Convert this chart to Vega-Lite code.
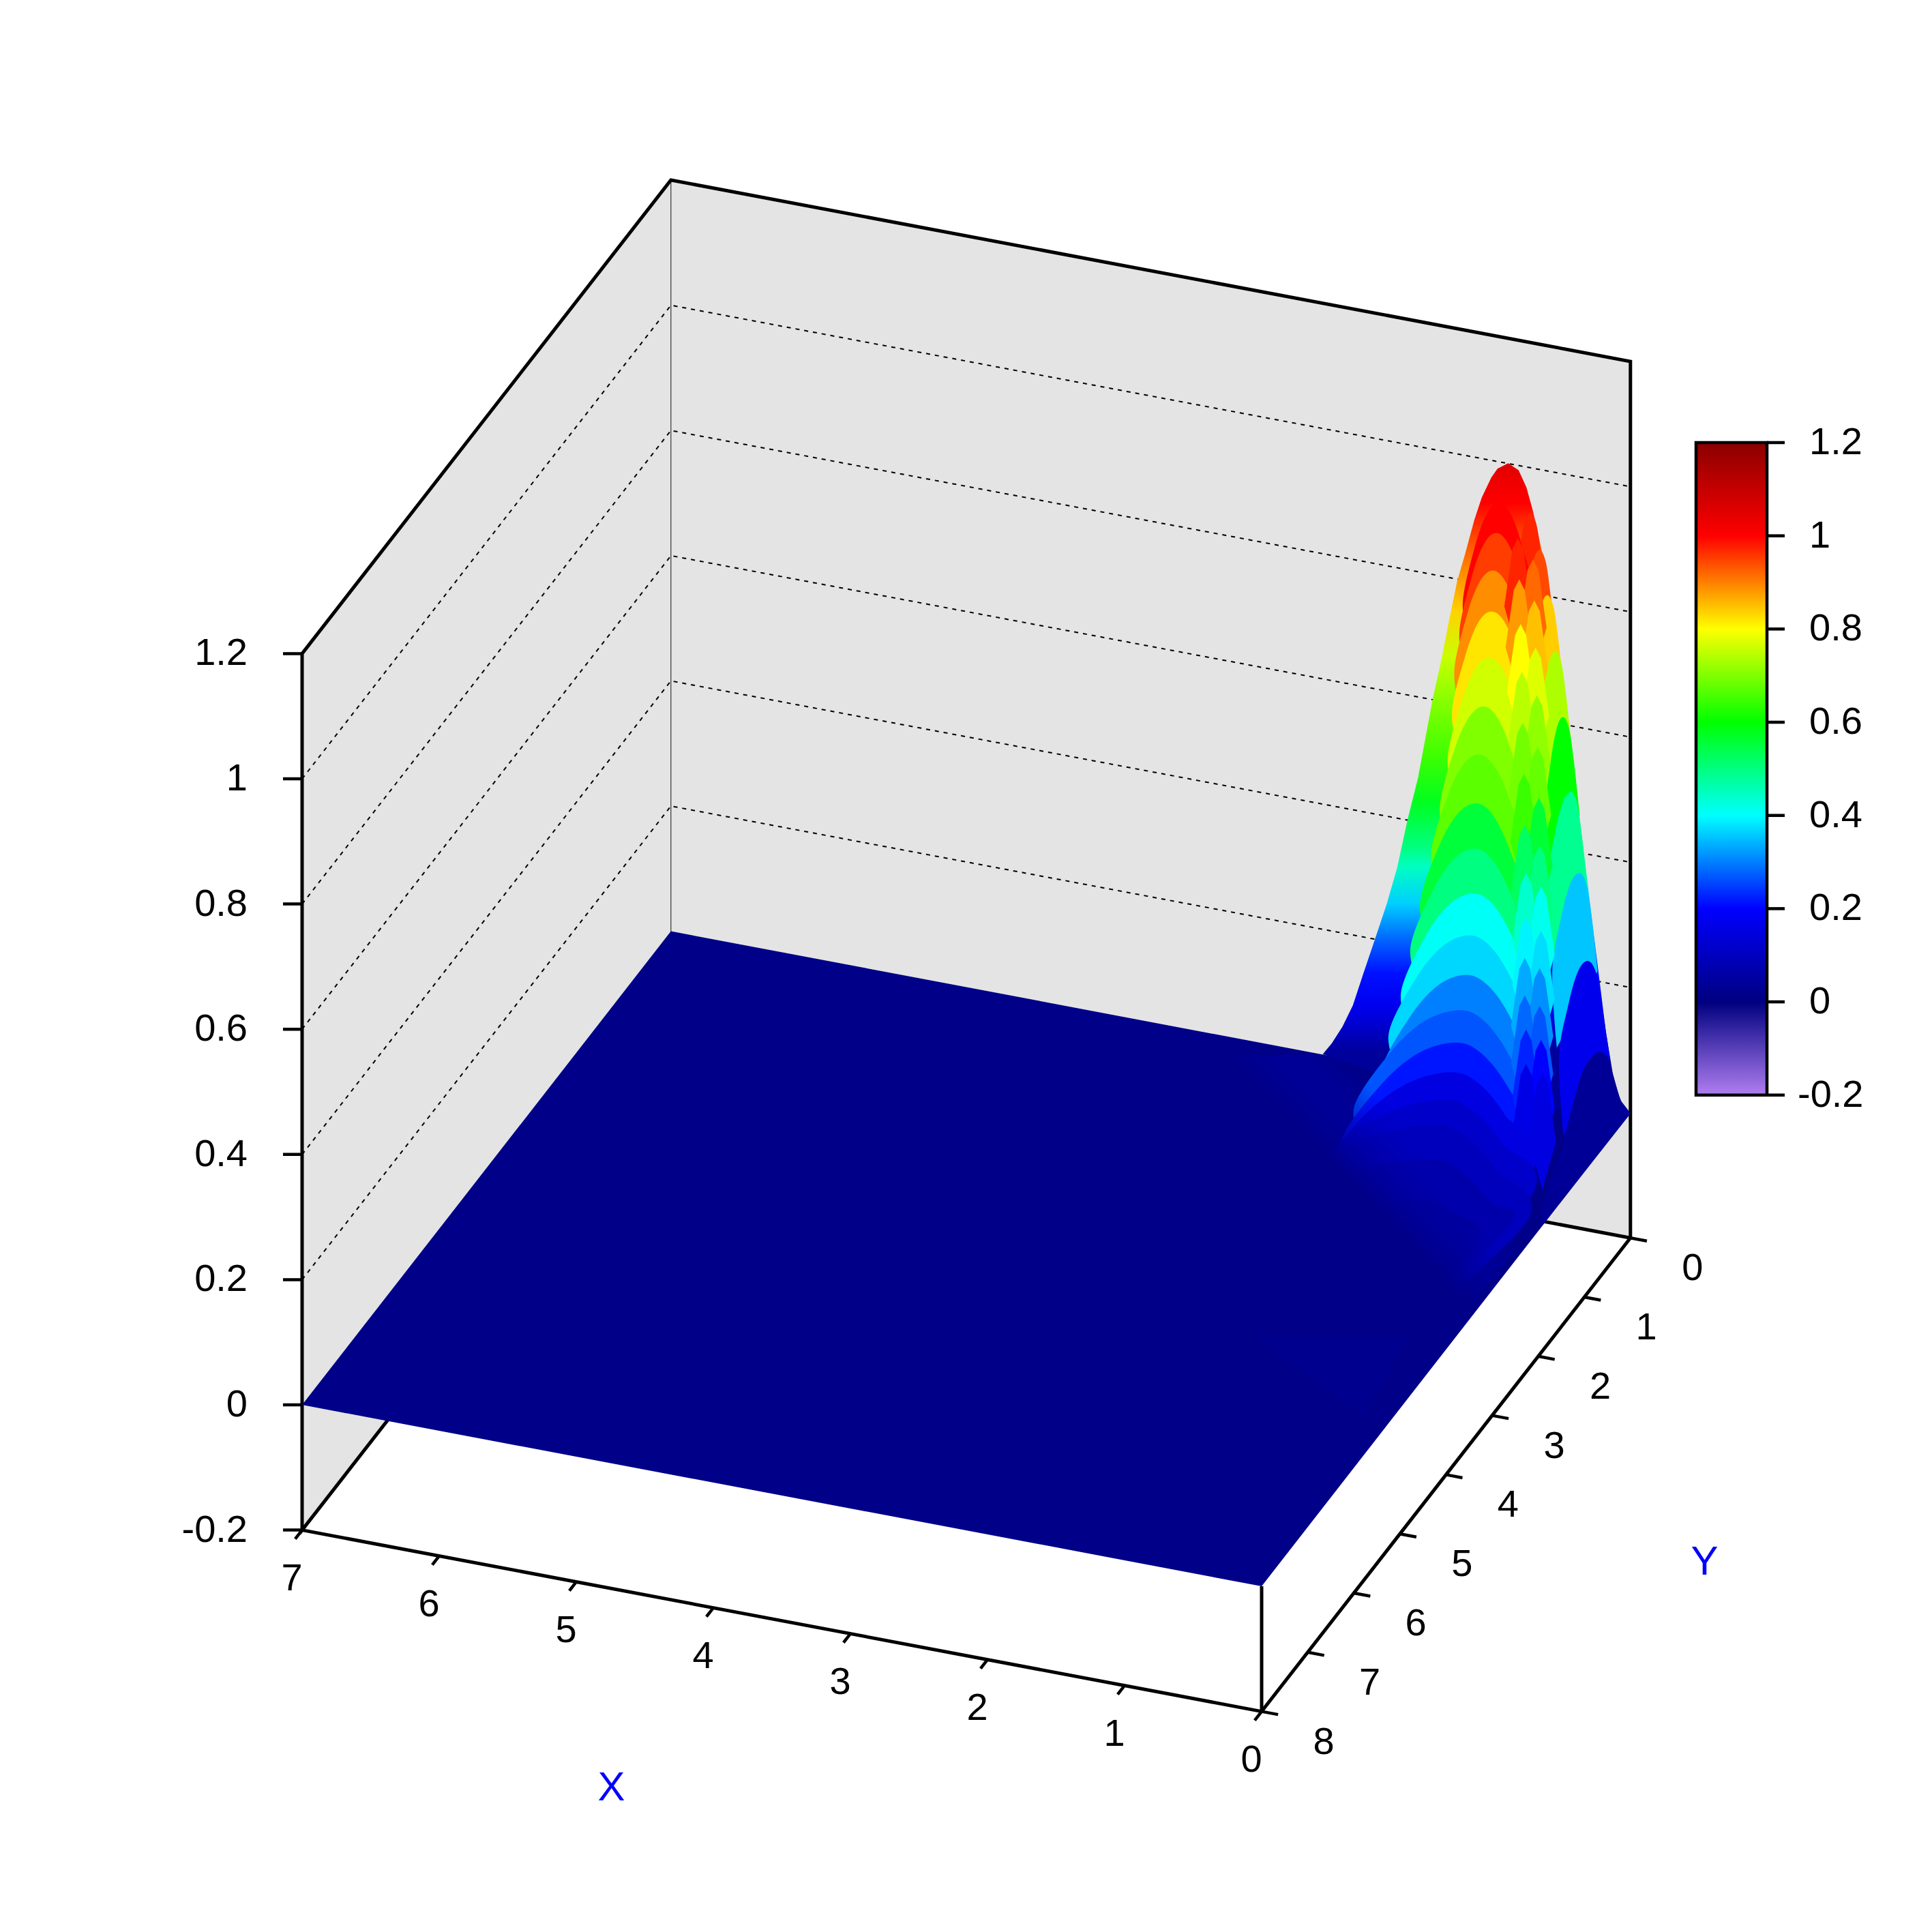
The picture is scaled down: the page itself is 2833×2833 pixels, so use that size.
{"$schema":"https://vega.github.io/schema/vega-lite/v6.json","width":2833,"height":2833,"padding":0,"autosize":{"type":"none"},"background":"white","config":{"view":{"stroke":null}},
"datasets":{"pts":[
{"part":"wall","poly":"left","i":0,"X":7,"Y":8,"Z":-0.2},{"part":"wall","poly":"left","i":1,"X":7,"Y":8,"Z":1.2},{"part":"wall","poly":"left","i":2,"X":7,"Y":0,"Z":1.2},{"part":"wall","poly":"left","i":3,"X":7,"Y":0,"Z":-0.2},
{"part":"wall","poly":"back","i":0,"X":7,"Y":0,"Z":-0.2},{"part":"wall","poly":"back","i":1,"X":7,"Y":0,"Z":1.2},{"part":"wall","poly":"back","i":2,"X":0,"Y":0,"Z":1.2},{"part":"wall","poly":"back","i":3,"X":0,"Y":0,"Z":-0.2},
{"part":"grid","poly":"g2","i":0,"X":7,"Y":8,"Z":0.2},{"part":"grid","poly":"g2","i":1,"X":7,"Y":0,"Z":0.2},{"part":"grid","poly":"g2","i":2,"X":0,"Y":0,"Z":0.2},
{"part":"grid","poly":"g4","i":0,"X":7,"Y":8,"Z":0.4},{"part":"grid","poly":"g4","i":1,"X":7,"Y":0,"Z":0.4},{"part":"grid","poly":"g4","i":2,"X":0,"Y":0,"Z":0.4},
{"part":"grid","poly":"g6","i":0,"X":7,"Y":8,"Z":0.6},{"part":"grid","poly":"g6","i":1,"X":7,"Y":0,"Z":0.6},{"part":"grid","poly":"g6","i":2,"X":0,"Y":0,"Z":0.6},
{"part":"grid","poly":"g8","i":0,"X":7,"Y":8,"Z":0.8},{"part":"grid","poly":"g8","i":1,"X":7,"Y":0,"Z":0.8},{"part":"grid","poly":"g8","i":2,"X":0,"Y":0,"Z":0.8},
{"part":"grid","poly":"g10","i":0,"X":7,"Y":8,"Z":1},{"part":"grid","poly":"g10","i":1,"X":7,"Y":0,"Z":1},{"part":"grid","poly":"g10","i":2,"X":0,"Y":0,"Z":1},
{"part":"thin","poly":"v","i":0,"X":7,"Y":0,"Z":-0.2},{"part":"thin","poly":"v","i":1,"X":7,"Y":0,"Z":1.2},
{"part":"edge","poly":"box","i":0,"X":7,"Y":8,"Z":-0.2},{"part":"edge","poly":"box","i":1,"X":0,"Y":8,"Z":-0.2},{"part":"edge","poly":"box","i":2,"X":0,"Y":0,"Z":-0.2},{"part":"edge","poly":"box","i":3,"X":0,"Y":0,"Z":1.2},{"part":"edge","poly":"box","i":4,"X":7,"Y":0,"Z":1.2},{"part":"edge","poly":"box","i":5,"X":7,"Y":8,"Z":1.2},{"part":"edge","poly":"box","i":6,"X":7,"Y":8,"Z":-0.2},{"part":"edge","poly":"box","i":7,"X":7,"Y":0,"Z":-0.2},{"part":"edge","poly":"box","i":8,"X":0,"Y":0,"Z":-0.2},
{"part":"edge","poly":"front","i":0,"X":0,"Y":8,"Z":-0.2},{"part":"edge","poly":"front","i":1,"X":0,"Y":8,"Z":0},
{"part":"tick","poly":"x0","i":0,"X":0,"Y":8,"Z":-0.2},{"part":"tick","poly":"x0","i":1,"X":0,"Y":8.15,"Z":-0.2},
{"part":"tick","poly":"x1","i":0,"X":1,"Y":8,"Z":-0.2},{"part":"tick","poly":"x1","i":1,"X":1,"Y":8.15,"Z":-0.2},
{"part":"tick","poly":"x2","i":0,"X":2,"Y":8,"Z":-0.2},{"part":"tick","poly":"x2","i":1,"X":2,"Y":8.15,"Z":-0.2},
{"part":"tick","poly":"x3","i":0,"X":3,"Y":8,"Z":-0.2},{"part":"tick","poly":"x3","i":1,"X":3,"Y":8.15,"Z":-0.2},
{"part":"tick","poly":"x4","i":0,"X":4,"Y":8,"Z":-0.2},{"part":"tick","poly":"x4","i":1,"X":4,"Y":8.15,"Z":-0.2},
{"part":"tick","poly":"x5","i":0,"X":5,"Y":8,"Z":-0.2},{"part":"tick","poly":"x5","i":1,"X":5,"Y":8.15,"Z":-0.2},
{"part":"tick","poly":"x6","i":0,"X":6,"Y":8,"Z":-0.2},{"part":"tick","poly":"x6","i":1,"X":6,"Y":8.15,"Z":-0.2},
{"part":"tick","poly":"x7","i":0,"X":7,"Y":8,"Z":-0.2},{"part":"tick","poly":"x7","i":1,"X":7,"Y":8.15,"Z":-0.2},
{"part":"tick","poly":"y0","i":0,"X":0,"Y":0,"Z":-0.2},{"part":"tick","poly":"y0","i":1,"X":-0.12,"Y":0,"Z":-0.2},
{"part":"tick","poly":"y1","i":0,"X":0,"Y":1,"Z":-0.2},{"part":"tick","poly":"y1","i":1,"X":-0.12,"Y":1,"Z":-0.2},
{"part":"tick","poly":"y2","i":0,"X":0,"Y":2,"Z":-0.2},{"part":"tick","poly":"y2","i":1,"X":-0.12,"Y":2,"Z":-0.2},
{"part":"tick","poly":"y3","i":0,"X":0,"Y":3,"Z":-0.2},{"part":"tick","poly":"y3","i":1,"X":-0.12,"Y":3,"Z":-0.2},
{"part":"tick","poly":"y4","i":0,"X":0,"Y":4,"Z":-0.2},{"part":"tick","poly":"y4","i":1,"X":-0.12,"Y":4,"Z":-0.2},
{"part":"tick","poly":"y5","i":0,"X":0,"Y":5,"Z":-0.2},{"part":"tick","poly":"y5","i":1,"X":-0.12,"Y":5,"Z":-0.2},
{"part":"tick","poly":"y6","i":0,"X":0,"Y":6,"Z":-0.2},{"part":"tick","poly":"y6","i":1,"X":-0.12,"Y":6,"Z":-0.2},
{"part":"tick","poly":"y7","i":0,"X":0,"Y":7,"Z":-0.2},{"part":"tick","poly":"y7","i":1,"X":-0.12,"Y":7,"Z":-0.2},
{"part":"tick","poly":"y8","i":0,"X":0,"Y":8,"Z":-0.2},{"part":"tick","poly":"y8","i":1,"X":-0.12,"Y":8,"Z":-0.2},
{"part":"tick","poly":"z0","i":0,"X":7,"Y":8,"Z":-0.2},{"part":"tick","poly":"z0","i":1,"X":7.1214,"Y":8.0534,"Z":-0.2},
{"part":"tick","poly":"z1","i":0,"X":7,"Y":8,"Z":0},{"part":"tick","poly":"z1","i":1,"X":7.1214,"Y":8.0534,"Z":0},
{"part":"tick","poly":"z2","i":0,"X":7,"Y":8,"Z":0.2},{"part":"tick","poly":"z2","i":1,"X":7.1214,"Y":8.0534,"Z":0.2},
{"part":"tick","poly":"z3","i":0,"X":7,"Y":8,"Z":0.4},{"part":"tick","poly":"z3","i":1,"X":7.1214,"Y":8.0534,"Z":0.4},
{"part":"tick","poly":"z4","i":0,"X":7,"Y":8,"Z":0.6},{"part":"tick","poly":"z4","i":1,"X":7.1214,"Y":8.0534,"Z":0.6},
{"part":"tick","poly":"z5","i":0,"X":7,"Y":8,"Z":0.8},{"part":"tick","poly":"z5","i":1,"X":7.1214,"Y":8.0534,"Z":0.8},
{"part":"tick","poly":"z6","i":0,"X":7,"Y":8,"Z":1},{"part":"tick","poly":"z6","i":1,"X":7.1214,"Y":8.0534,"Z":1},
{"part":"tick","poly":"z7","i":0,"X":7,"Y":8,"Z":1.2},{"part":"tick","poly":"z7","i":1,"X":7.1214,"Y":8.0534,"Z":1.2},
{"part":"floor","poly":"f","i":0,"X":7,"Y":8,"Z":0},{"part":"floor","poly":"f","i":1,"X":0,"Y":8,"Z":0},{"part":"floor","poly":"f","i":2,"X":0,"Y":0,"Z":0},{"part":"floor","poly":"f","i":3,"X":7,"Y":0,"Z":0},
{"part":"sil","poly":"s","i":0,"X":2.244,"Y":0,"Z":0.004},{"part":"sil","poly":"s","i":1,"X":2.179,"Y":0,"Z":0.024},{"part":"sil","poly":"s","i":2,"X":2.101,"Y":0,"Z":0.054},{"part":"sil","poly":"s","i":3,"X":2.025,"Y":0,"Z":0.091},{"part":"sil","poly":"s","i":4,"X":1.95,"Y":0,"Z":0.144},{"part":"sil","poly":"s","i":5,"X":1.873,"Y":0,"Z":0.197},{"part":"sil","poly":"s","i":6,"X":1.778,"Y":0,"Z":0.263},{"part":"sil","poly":"s","i":7,"X":1.701,"Y":0,"Z":0.325},{"part":"sil","poly":"s","i":8,"X":1.627,"Y":0,"Z":0.403},{"part":"sil","poly":"s","i":9,"X":1.549,"Y":0,"Z":0.475},{"part":"sil","poly":"s","i":10,"X":1.444,"Y":0,"Z":0.603},{"part":"sil","poly":"s","i":11,"X":1.378,"Y":0,"Z":0.671},{"part":"sil","poly":"s","i":12,"X":1.33,"Y":0,"Z":0.727},{"part":"sil","poly":"s","i":13,"X":1.264,"Y":0,"Z":0.8},{"part":"sil","poly":"s","i":14,"X":1.206,"Y":0,"Z":0.846},{"part":"sil","poly":"s","i":15,"X":1.139,"Y":0,"Z":0.903},{"part":"sil","poly":"s","i":16,"X":1.085,"Y":0,"Z":0.941},{"part":"sil","poly":"s","i":17,"X":1.015,"Y":0,"Z":0.976},{"part":"sil","poly":"s","i":18,"X":0.97,"Y":0,"Z":0.992},{"part":"sil","poly":"s","i":19,"X":0.892,"Y":0,"Z":1.004},{"part":"sil","poly":"s","i":20,"X":0.816,"Y":0,"Z":0.996},{"part":"sil","poly":"s","i":21,"X":0.759,"Y":0,"Z":0.971},{"part":"sil","poly":"s","i":22,"X":0.711,"Y":0,"Z":0.935},{"part":"sil","poly":"s","i":23,"X":0.647,"Y":0,"Z":0.875},{"part":"sil","poly":"s","i":24,"X":0.587,"Y":0,"Z":0.806},{"part":"sil","poly":"s","i":25,"X":0.532,"Y":0,"Z":0.735},{"part":"sil","poly":"s","i":26,"X":0.473,"Y":0,"Z":0.647},{"part":"sil","poly":"s","i":27,"X":0.408,"Y":0,"Z":0.522},{"part":"sil","poly":"s","i":28,"X":0.378,"Y":0,"Z":0.471},{"part":"sil","poly":"s","i":29,"X":0.331,"Y":0,"Z":0.39},{"part":"sil","poly":"s","i":30,"X":0.274,"Y":0,"Z":0.288},{"part":"sil","poly":"s","i":31,"X":0.226,"Y":0,"Z":0.206},{"part":"sil","poly":"s","i":32,"X":0.179,"Y":0,"Z":0.125},{"part":"sil","poly":"s","i":33,"X":0.129,"Y":0,"Z":0.061},{"part":"sil","poly":"s","i":34,"X":0.075,"Y":0,"Z":0.021},{"part":"sil","poly":"s","i":35,"X":0,"Y":0,"Z":0.003},{"part":"sil","poly":"s","i":36,"X":1.1,"Y":0.3,"Z":0},
{"part":"surf","poly":"r0","level":0.99,"i":0,"X":0.84,"Y":0,"Z":0.648},{"part":"surf","poly":"r0","level":0.99,"i":1,"X":0.862,"Y":0,"Z":0.769},{"part":"surf","poly":"r0","level":0.99,"i":2,"X":0.819,"Y":0,"Z":0.858},{"part":"surf","poly":"r0","level":0.99,"i":3,"X":0.775,"Y":0,"Z":0.912},{"part":"surf","poly":"r0","level":0.99,"i":4,"X":0.731,"Y":0,"Z":0.931},{"part":"surf","poly":"r0","level":0.99,"i":5,"X":0.686,"Y":0,"Z":0.915},{"part":"surf","poly":"r0","level":0.99,"i":6,"X":0.651,"Y":0,"Z":0.865},{"part":"surf","poly":"r0","level":0.99,"i":7,"X":0.607,"Y":0,"Z":0.779},
{"part":"surf","poly":"r1","level":0.965,"i":0,"X":0.773,"Y":0,"Z":0.592},{"part":"surf","poly":"r1","level":0.965,"i":1,"X":0.795,"Y":0,"Z":0.713},{"part":"surf","poly":"r1","level":0.965,"i":2,"X":0.752,"Y":0,"Z":0.802},{"part":"surf","poly":"r1","level":0.965,"i":3,"X":0.708,"Y":0,"Z":0.856},{"part":"surf","poly":"r1","level":0.965,"i":4,"X":0.664,"Y":0,"Z":0.875},{"part":"surf","poly":"r1","level":0.965,"i":5,"X":0.619,"Y":0,"Z":0.859},{"part":"surf","poly":"r1","level":0.965,"i":6,"X":0.584,"Y":0,"Z":0.809},{"part":"surf","poly":"r1","level":0.965,"i":7,"X":0.54,"Y":0,"Z":0.723},
{"part":"surf","poly":"r2","level":0.84,"i":0,"X":0.716,"Y":0,"Z":0.522},{"part":"surf","poly":"r2","level":0.84,"i":1,"X":0.738,"Y":0,"Z":0.643},{"part":"surf","poly":"r2","level":0.84,"i":2,"X":0.695,"Y":0,"Z":0.732},{"part":"surf","poly":"r2","level":0.84,"i":3,"X":0.651,"Y":0,"Z":0.786},{"part":"surf","poly":"r2","level":0.84,"i":4,"X":0.607,"Y":0,"Z":0.805},{"part":"surf","poly":"r2","level":0.84,"i":5,"X":0.562,"Y":0,"Z":0.789},{"part":"surf","poly":"r2","level":0.84,"i":6,"X":0.527,"Y":0,"Z":0.739},{"part":"surf","poly":"r2","level":0.84,"i":7,"X":0.483,"Y":0,"Z":0.653},
{"part":"surf","poly":"r3","level":0.73,"i":0,"X":0.659,"Y":0,"Z":0.435},{"part":"surf","poly":"r3","level":0.73,"i":1,"X":0.681,"Y":0,"Z":0.556},{"part":"surf","poly":"r3","level":0.73,"i":2,"X":0.638,"Y":0,"Z":0.645},{"part":"surf","poly":"r3","level":0.73,"i":3,"X":0.594,"Y":0,"Z":0.699},{"part":"surf","poly":"r3","level":0.73,"i":4,"X":0.55,"Y":0,"Z":0.718},{"part":"surf","poly":"r3","level":0.73,"i":5,"X":0.505,"Y":0,"Z":0.702},{"part":"surf","poly":"r3","level":0.73,"i":6,"X":0.47,"Y":0,"Z":0.652},{"part":"surf","poly":"r3","level":0.73,"i":7,"X":0.426,"Y":0,"Z":0.566},
{"part":"surf","poly":"r4","level":0.6,"i":0,"X":0.602,"Y":0,"Z":0.332},{"part":"surf","poly":"r4","level":0.6,"i":1,"X":0.624,"Y":0,"Z":0.453},{"part":"surf","poly":"r4","level":0.6,"i":2,"X":0.581,"Y":0,"Z":0.542},{"part":"surf","poly":"r4","level":0.6,"i":3,"X":0.537,"Y":0,"Z":0.596},{"part":"surf","poly":"r4","level":0.6,"i":4,"X":0.493,"Y":0,"Z":0.615},{"part":"surf","poly":"r4","level":0.6,"i":5,"X":0.448,"Y":0,"Z":0.599},{"part":"surf","poly":"r4","level":0.6,"i":6,"X":0.413,"Y":0,"Z":0.549},{"part":"surf","poly":"r4","level":0.6,"i":7,"X":0.369,"Y":0,"Z":0.463},
{"part":"surf","poly":"r5","level":0.49,"i":0,"X":0.584,"Y":0,"Z":0.213},{"part":"surf","poly":"r5","level":0.49,"i":1,"X":0.614,"Y":0,"Z":0.334},{"part":"surf","poly":"r5","level":0.49,"i":2,"X":0.554,"Y":0,"Z":0.423},{"part":"surf","poly":"r5","level":0.49,"i":3,"X":0.495,"Y":0,"Z":0.478},{"part":"surf","poly":"r5","level":0.49,"i":4,"X":0.435,"Y":0,"Z":0.498},{"part":"surf","poly":"r5","level":0.49,"i":5,"X":0.39,"Y":0,"Z":0.482},{"part":"surf","poly":"r5","level":0.49,"i":6,"X":0.355,"Y":0,"Z":0.432},{"part":"surf","poly":"r5","level":0.49,"i":7,"X":0.311,"Y":0,"Z":0.346},
{"part":"surf","poly":"r6","level":0.35,"i":0,"X":0.537,"Y":0,"Z":0.085},{"part":"surf","poly":"r6","level":0.35,"i":1,"X":0.57,"Y":0,"Z":0.206},{"part":"surf","poly":"r6","level":0.35,"i":2,"X":0.504,"Y":0,"Z":0.296},{"part":"surf","poly":"r6","level":0.35,"i":3,"X":0.439,"Y":0,"Z":0.351},{"part":"surf","poly":"r6","level":0.35,"i":4,"X":0.373,"Y":0,"Z":0.371},{"part":"surf","poly":"r6","level":0.35,"i":5,"X":0.323,"Y":0,"Z":0.356},{"part":"surf","poly":"r6","level":0.35,"i":6,"X":0.283,"Y":0,"Z":0.305},{"part":"surf","poly":"r6","level":0.35,"i":7,"X":0.239,"Y":0,"Z":0.22},
{"part":"surf","poly":"r7","level":0.17,"i":0,"X":0.487,"Y":0,"Z":-0.053},{"part":"surf","poly":"r7","level":0.17,"i":1,"X":0.522,"Y":0,"Z":0.068},{"part":"surf","poly":"r7","level":0.17,"i":2,"X":0.452,"Y":0,"Z":0.158},{"part":"surf","poly":"r7","level":0.17,"i":3,"X":0.383,"Y":0,"Z":0.213},{"part":"surf","poly":"r7","level":0.17,"i":4,"X":0.313,"Y":0,"Z":0.233},{"part":"surf","poly":"r7","level":0.17,"i":5,"X":0.253,"Y":0,"Z":0.218},{"part":"surf","poly":"r7","level":0.17,"i":6,"X":0.209,"Y":0,"Z":0.168},{"part":"surf","poly":"r7","level":0.17,"i":7,"X":0.149,"Y":0,"Z":0.083},
{"part":"surf","poly":"k01","level":1,"i":1,"X":0.685,"Y":1.5,"Z":0.873},{"part":"surf","poly":"k01","level":1,"i":2,"X":0.718,"Y":1.5,"Z":0.932},{"part":"surf","poly":"k01","level":1,"i":3,"X":0.63,"Y":1.5,"Z":1.023},{"part":"surf","poly":"k01","level":1,"i":4,"X":0.543,"Y":1.5,"Z":1.079},{"part":"surf","poly":"k01","level":1,"i":5,"X":0.455,"Y":1.5,"Z":1.1},{"part":"surf","poly":"k01","level":1,"i":6,"X":0.369,"Y":1.5,"Z":1.086},{"part":"surf","poly":"k01","level":1,"i":7,"X":0.284,"Y":1.5,"Z":1.037},{"part":"surf","poly":"k01","level":1,"i":8,"X":0.198,"Y":1.5,"Z":0.954},{"part":"surf","poly":"k01","level":1,"i":9,"X":0.241,"Y":1.5,"Z":0.83},
{"part":"surf","poly":"k02","level":0.975,"i":1,"X":0.709,"Y":1.5,"Z":0.823},{"part":"surf","poly":"k02","level":0.975,"i":2,"X":0.743,"Y":1.5,"Z":0.883},{"part":"surf","poly":"k02","level":0.975,"i":3,"X":0.653,"Y":1.5,"Z":0.974},{"part":"surf","poly":"k02","level":0.975,"i":4,"X":0.564,"Y":1.5,"Z":1.03},{"part":"surf","poly":"k02","level":0.975,"i":5,"X":0.474,"Y":1.5,"Z":1.051},{"part":"surf","poly":"k02","level":0.975,"i":6,"X":0.386,"Y":1.5,"Z":1.037},{"part":"surf","poly":"k02","level":0.975,"i":7,"X":0.299,"Y":1.5,"Z":0.989},{"part":"surf","poly":"k02","level":0.975,"i":8,"X":0.211,"Y":1.5,"Z":0.905},{"part":"surf","poly":"k02","level":0.975,"i":9,"X":0.255,"Y":1.5,"Z":0.781},
{"part":"surf","poly":"k03","level":0.89,"i":1,"X":0.744,"Y":1.5,"Z":0.762},{"part":"surf","poly":"k03","level":0.89,"i":2,"X":0.78,"Y":1.5,"Z":0.821},{"part":"surf","poly":"k03","level":0.89,"i":3,"X":0.686,"Y":1.5,"Z":0.913},{"part":"surf","poly":"k03","level":0.89,"i":4,"X":0.593,"Y":1.5,"Z":0.969},{"part":"surf","poly":"k03","level":0.89,"i":5,"X":0.499,"Y":1.5,"Z":0.99},{"part":"surf","poly":"k03","level":0.89,"i":6,"X":0.407,"Y":1.5,"Z":0.976},{"part":"surf","poly":"k03","level":0.89,"i":7,"X":0.316,"Y":1.5,"Z":0.928},{"part":"surf","poly":"k03","level":0.89,"i":8,"X":0.224,"Y":1.5,"Z":0.844},{"part":"surf","poly":"k03","level":0.89,"i":9,"X":0.27,"Y":1.5,"Z":0.721},
{"part":"surf","poly":"k04","level":0.82,"i":1,"X":0.76,"Y":1.5,"Z":0.696},{"part":"surf","poly":"k04","level":0.82,"i":2,"X":0.796,"Y":1.5,"Z":0.755},{"part":"surf","poly":"k04","level":0.82,"i":3,"X":0.7,"Y":1.5,"Z":0.846},{"part":"surf","poly":"k04","level":0.82,"i":4,"X":0.605,"Y":1.5,"Z":0.903},{"part":"surf","poly":"k04","level":0.82,"i":5,"X":0.509,"Y":1.5,"Z":0.924},{"part":"surf","poly":"k04","level":0.82,"i":6,"X":0.413,"Y":1.5,"Z":0.911},{"part":"surf","poly":"k04","level":0.82,"i":7,"X":0.318,"Y":1.5,"Z":0.862},{"part":"surf","poly":"k04","level":0.82,"i":8,"X":0.222,"Y":1.5,"Z":0.779},{"part":"surf","poly":"k04","level":0.82,"i":9,"X":0.27,"Y":1.5,"Z":0.655},
{"part":"surf","poly":"k05","level":0.757,"i":1,"X":0.79,"Y":1.5,"Z":0.62},{"part":"surf","poly":"k05","level":0.757,"i":2,"X":0.828,"Y":1.5,"Z":0.68},{"part":"surf","poly":"k05","level":0.757,"i":3,"X":0.728,"Y":1.5,"Z":0.771},{"part":"surf","poly":"k05","level":0.757,"i":4,"X":0.629,"Y":1.5,"Z":0.828},{"part":"surf","poly":"k05","level":0.757,"i":5,"X":0.529,"Y":1.5,"Z":0.849},{"part":"surf","poly":"k05","level":0.757,"i":6,"X":0.431,"Y":1.5,"Z":0.836},{"part":"surf","poly":"k05","level":0.757,"i":7,"X":0.334,"Y":1.5,"Z":0.787},{"part":"surf","poly":"k05","level":0.757,"i":8,"X":0.236,"Y":1.5,"Z":0.704},{"part":"surf","poly":"k05","level":0.757,"i":9,"X":0.285,"Y":1.5,"Z":0.58},
{"part":"surf","poly":"k06","level":0.7,"i":1,"X":0.846,"Y":1.5,"Z":0.541},{"part":"surf","poly":"k06","level":0.7,"i":2,"X":0.885,"Y":1.5,"Z":0.6},{"part":"surf","poly":"k06","level":0.7,"i":3,"X":0.78,"Y":1.5,"Z":0.692},{"part":"surf","poly":"k06","level":0.7,"i":4,"X":0.674,"Y":1.5,"Z":0.748},{"part":"surf","poly":"k06","level":0.7,"i":5,"X":0.569,"Y":1.5,"Z":0.77},{"part":"surf","poly":"k06","level":0.7,"i":6,"X":0.468,"Y":1.5,"Z":0.757},{"part":"surf","poly":"k06","level":0.7,"i":7,"X":0.366,"Y":1.5,"Z":0.709},{"part":"surf","poly":"k06","level":0.7,"i":8,"X":0.265,"Y":1.5,"Z":0.626},{"part":"surf","poly":"k06","level":0.7,"i":9,"X":0.315,"Y":1.5,"Z":0.502},
{"part":"surf","poly":"k07","level":0.65,"i":1,"X":0.907,"Y":1.5,"Z":0.462},{"part":"surf","poly":"k07","level":0.65,"i":2,"X":0.95,"Y":1.5,"Z":0.521},{"part":"surf","poly":"k07","level":0.65,"i":3,"X":0.835,"Y":1.5,"Z":0.613},{"part":"surf","poly":"k07","level":0.65,"i":4,"X":0.719,"Y":1.5,"Z":0.67},{"part":"surf","poly":"k07","level":0.65,"i":5,"X":0.604,"Y":1.5,"Z":0.692},{"part":"surf","poly":"k07","level":0.65,"i":6,"X":0.493,"Y":1.5,"Z":0.679},{"part":"surf","poly":"k07","level":0.65,"i":7,"X":0.381,"Y":1.5,"Z":0.632},{"part":"surf","poly":"k07","level":0.65,"i":8,"X":0.27,"Y":1.5,"Z":0.549},{"part":"surf","poly":"k07","level":0.65,"i":9,"X":0.325,"Y":1.5,"Z":0.425},
{"part":"surf","poly":"k08","level":0.575,"i":1,"X":0.979,"Y":1.5,"Z":0.38},{"part":"surf","poly":"k08","level":0.575,"i":2,"X":1.03,"Y":1.5,"Z":0.439},{"part":"surf","poly":"k08","level":0.575,"i":3,"X":0.895,"Y":1.5,"Z":0.532},{"part":"surf","poly":"k08","level":0.575,"i":4,"X":0.759,"Y":1.5,"Z":0.59},{"part":"surf","poly":"k08","level":0.575,"i":5,"X":0.624,"Y":1.5,"Z":0.613},{"part":"surf","poly":"k08","level":0.575,"i":6,"X":0.505,"Y":1.5,"Z":0.601},{"part":"surf","poly":"k08","level":0.575,"i":7,"X":0.385,"Y":1.5,"Z":0.553},{"part":"surf","poly":"k08","level":0.575,"i":8,"X":0.266,"Y":1.5,"Z":0.471},{"part":"surf","poly":"k08","level":0.575,"i":9,"X":0.325,"Y":1.5,"Z":0.346},
{"part":"surf","poly":"k09","level":0.5,"i":1,"X":1.041,"Y":1.5,"Z":0.305},{"part":"surf","poly":"k09","level":0.5,"i":2,"X":1.1,"Y":1.5,"Z":0.364},{"part":"surf","poly":"k09","level":0.5,"i":3,"X":0.944,"Y":1.5,"Z":0.457},{"part":"surf","poly":"k09","level":0.5,"i":4,"X":0.789,"Y":1.5,"Z":0.516},{"part":"surf","poly":"k09","level":0.5,"i":5,"X":0.634,"Y":1.5,"Z":0.54},{"part":"surf","poly":"k09","level":0.5,"i":6,"X":0.505,"Y":1.5,"Z":0.528},{"part":"surf","poly":"k09","level":0.5,"i":7,"X":0.375,"Y":1.5,"Z":0.481},{"part":"surf","poly":"k09","level":0.5,"i":8,"X":0.246,"Y":1.5,"Z":0.399},{"part":"surf","poly":"k09","level":0.5,"i":9,"X":0.311,"Y":1.5,"Z":0.274},
{"part":"surf","poly":"k10","level":0.41,"i":1,"X":1.103,"Y":1.5,"Z":0.231},{"part":"surf","poly":"k10","level":0.41,"i":2,"X":1.169,"Y":1.5,"Z":0.289},{"part":"surf","poly":"k10","level":0.41,"i":3,"X":0.994,"Y":1.5,"Z":0.384},{"part":"surf","poly":"k10","level":0.41,"i":4,"X":0.819,"Y":1.5,"Z":0.443},{"part":"surf","poly":"k10","level":0.41,"i":5,"X":0.644,"Y":1.5,"Z":0.468},{"part":"surf","poly":"k10","level":0.41,"i":6,"X":0.501,"Y":1.5,"Z":0.457},{"part":"surf","poly":"k10","level":0.41,"i":7,"X":0.357,"Y":1.5,"Z":0.41},{"part":"surf","poly":"k10","level":0.41,"i":8,"X":0.214,"Y":1.5,"Z":0.329},{"part":"surf","poly":"k10","level":0.41,"i":9,"X":0.286,"Y":1.5,"Z":0.204},
{"part":"surf","poly":"k11","level":0.365,"i":1,"X":1.186,"Y":1.5,"Z":0.161},{"part":"surf","poly":"k11","level":0.365,"i":2,"X":1.259,"Y":1.5,"Z":0.219},{"part":"surf","poly":"k11","level":0.365,"i":3,"X":1.064,"Y":1.5,"Z":0.314},{"part":"surf","poly":"k11","level":0.365,"i":4,"X":0.869,"Y":1.5,"Z":0.374},{"part":"surf","poly":"k11","level":0.365,"i":5,"X":0.674,"Y":1.5,"Z":0.4},{"part":"surf","poly":"k11","level":0.365,"i":6,"X":0.519,"Y":1.5,"Z":0.389},{"part":"surf","poly":"k11","level":0.365,"i":7,"X":0.364,"Y":1.5,"Z":0.343},{"part":"surf","poly":"k11","level":0.365,"i":8,"X":0.208,"Y":1.5,"Z":0.262},{"part":"surf","poly":"k11","level":0.365,"i":9,"X":0.286,"Y":1.5,"Z":0.137},
{"part":"surf","poly":"k12","level":0.3,"i":1,"X":1.242,"Y":1.5,"Z":0.095},{"part":"surf","poly":"k12","level":0.3,"i":2,"X":1.321,"Y":1.5,"Z":0.153},{"part":"surf","poly":"k12","level":0.3,"i":3,"X":1.112,"Y":1.5,"Z":0.249},{"part":"surf","poly":"k12","level":0.3,"i":4,"X":0.903,"Y":1.5,"Z":0.31},{"part":"surf","poly":"k12","level":0.3,"i":5,"X":0.694,"Y":1.5,"Z":0.336},{"part":"surf","poly":"k12","level":0.3,"i":6,"X":0.531,"Y":1.5,"Z":0.325},{"part":"surf","poly":"k12","level":0.3,"i":7,"X":0.368,"Y":1.5,"Z":0.28},{"part":"surf","poly":"k12","level":0.3,"i":8,"X":0.204,"Y":1.5,"Z":0.199},{"part":"surf","poly":"k12","level":0.3,"i":9,"X":0.286,"Y":1.5,"Z":0.074},
{"part":"surf","poly":"k13","level":0.25,"i":1,"X":1.417,"Y":1.5,"Z":0.032},{"part":"surf","poly":"k13","level":0.25,"i":2,"X":1.514,"Y":1.5,"Z":0.089},{"part":"surf","poly":"k13","level":0.25,"i":3,"X":1.255,"Y":1.5,"Z":0.187},{"part":"surf","poly":"k13","level":0.25,"i":4,"X":0.997,"Y":1.5,"Z":0.25},{"part":"surf","poly":"k13","level":0.25,"i":5,"X":0.738,"Y":1.5,"Z":0.278},{"part":"surf","poly":"k13","level":0.25,"i":6,"X":0.563,"Y":1.5,"Z":0.268},{"part":"surf","poly":"k13","level":0.25,"i":7,"X":0.388,"Y":1.5,"Z":0.223},{"part":"surf","poly":"k13","level":0.25,"i":8,"X":0.213,"Y":1.5,"Z":0.143},{"part":"surf","poly":"k13","level":0.25,"i":9,"X":0.3,"Y":1.5,"Z":0.017},
{"part":"surf","poly":"k14","level":0.205,"i":1,"X":1.499,"Y":1.5,"Z":-0.023},{"part":"surf","poly":"k14","level":0.205,"i":2,"X":1.604,"Y":1.5,"Z":0.033},{"part":"surf","poly":"k14","level":0.205,"i":3,"X":1.325,"Y":1.5,"Z":0.132},{"part":"surf","poly":"k14","level":0.205,"i":4,"X":1.047,"Y":1.5,"Z":0.196},{"part":"surf","poly":"k14","level":0.205,"i":5,"X":0.768,"Y":1.5,"Z":0.225},{"part":"surf","poly":"k14","level":0.205,"i":6,"X":0.581,"Y":1.5,"Z":0.215},{"part":"surf","poly":"k14","level":0.205,"i":7,"X":0.394,"Y":1.5,"Z":0.171},{"part":"surf","poly":"k14","level":0.205,"i":8,"X":0.207,"Y":1.5,"Z":0.091},{"part":"surf","poly":"k14","level":0.205,"i":9,"X":0.3,"Y":1.5,"Z":-0.035},
{"part":"spike","poly":"a01","level":0.99,"i":0,"X":0.92,"Y":0,"Z":0.774},{"part":"spike","poly":"a01","level":0.99,"i":1,"X":0.861,"Y":0,"Z":0.868},{"part":"spike","poly":"a01","level":0.99,"i":2,"X":0.821,"Y":0,"Z":0.887},{"part":"spike","poly":"a01","level":0.99,"i":3,"X":0.781,"Y":0,"Z":0.871},{"part":"spike","poly":"a01","level":0.99,"i":4,"X":0.722,"Y":0,"Z":0.782},{"part":"spike","poly":"a01","level":0.99,"i":5,"X":0.821,"Y":0,"Z":0.702},
{"part":"spike","poly":"b01","level":0.93,"i":0,"X":0.811,"Y":0,"Z":0.745},{"part":"spike","poly":"b01","level":0.93,"i":1,"X":0.751,"Y":0,"Z":0.839},{"part":"spike","poly":"b01","level":0.93,"i":2,"X":0.711,"Y":0,"Z":0.858},{"part":"spike","poly":"b01","level":0.93,"i":3,"X":0.671,"Y":0,"Z":0.842},{"part":"spike","poly":"b01","level":0.93,"i":4,"X":0.612,"Y":0,"Z":0.753},{"part":"spike","poly":"b01","level":0.93,"i":5,"X":0.711,"Y":0,"Z":0.673},
{"part":"spike","poly":"a02","level":0.88,"i":0,"X":0.911,"Y":0,"Z":0.709},{"part":"spike","poly":"a02","level":0.88,"i":1,"X":0.851,"Y":0,"Z":0.803},{"part":"spike","poly":"a02","level":0.88,"i":2,"X":0.811,"Y":0,"Z":0.822},{"part":"spike","poly":"a02","level":0.88,"i":3,"X":0.771,"Y":0,"Z":0.806},{"part":"spike","poly":"a02","level":0.88,"i":4,"X":0.712,"Y":0,"Z":0.717},{"part":"spike","poly":"a02","level":0.88,"i":5,"X":0.811,"Y":0,"Z":0.637},
{"part":"spike","poly":"b02","level":0.85,"i":0,"X":0.801,"Y":0,"Z":0.68},{"part":"spike","poly":"b02","level":0.85,"i":1,"X":0.741,"Y":0,"Z":0.774},{"part":"spike","poly":"b02","level":0.85,"i":2,"X":0.701,"Y":0,"Z":0.793},{"part":"spike","poly":"b02","level":0.85,"i":3,"X":0.661,"Y":0,"Z":0.777},{"part":"spike","poly":"b02","level":0.85,"i":4,"X":0.602,"Y":0,"Z":0.688},{"part":"spike","poly":"b02","level":0.85,"i":5,"X":0.701,"Y":0,"Z":0.608},
{"part":"spike","poly":"a03","level":0.8,"i":0,"X":0.901,"Y":0,"Z":0.638},{"part":"spike","poly":"a03","level":0.8,"i":1,"X":0.841,"Y":0,"Z":0.732},{"part":"spike","poly":"a03","level":0.8,"i":2,"X":0.801,"Y":0,"Z":0.751},{"part":"spike","poly":"a03","level":0.8,"i":3,"X":0.761,"Y":0,"Z":0.735},{"part":"spike","poly":"a03","level":0.8,"i":4,"X":0.702,"Y":0,"Z":0.646},{"part":"spike","poly":"a03","level":0.8,"i":5,"X":0.801,"Y":0,"Z":0.566},
{"part":"spike","poly":"b03","level":0.77,"i":0,"X":0.792,"Y":0,"Z":0.605},{"part":"spike","poly":"b03","level":0.77,"i":1,"X":0.732,"Y":0,"Z":0.699},{"part":"spike","poly":"b03","level":0.77,"i":2,"X":0.692,"Y":0,"Z":0.718},{"part":"spike","poly":"b03","level":0.77,"i":3,"X":0.652,"Y":0,"Z":0.702},{"part":"spike","poly":"b03","level":0.77,"i":4,"X":0.593,"Y":0,"Z":0.613},{"part":"spike","poly":"b03","level":0.77,"i":5,"X":0.692,"Y":0,"Z":0.533},
{"part":"spike","poly":"a04","level":0.74,"i":0,"X":0.891,"Y":0,"Z":0.562},{"part":"spike","poly":"a04","level":0.74,"i":1,"X":0.831,"Y":0,"Z":0.656},{"part":"spike","poly":"a04","level":0.74,"i":2,"X":0.791,"Y":0,"Z":0.675},{"part":"spike","poly":"a04","level":0.74,"i":3,"X":0.751,"Y":0,"Z":0.659},{"part":"spike","poly":"a04","level":0.74,"i":4,"X":0.692,"Y":0,"Z":0.57},{"part":"spike","poly":"a04","level":0.74,"i":5,"X":0.791,"Y":0,"Z":0.49},
{"part":"spike","poly":"b04","level":0.71,"i":0,"X":0.782,"Y":0,"Z":0.529},{"part":"spike","poly":"b04","level":0.71,"i":1,"X":0.722,"Y":0,"Z":0.623},{"part":"spike","poly":"b04","level":0.71,"i":2,"X":0.682,"Y":0,"Z":0.642},{"part":"spike","poly":"b04","level":0.71,"i":3,"X":0.642,"Y":0,"Z":0.626},{"part":"spike","poly":"b04","level":0.71,"i":4,"X":0.583,"Y":0,"Z":0.537},{"part":"spike","poly":"b04","level":0.71,"i":5,"X":0.682,"Y":0,"Z":0.457},
{"part":"spike","poly":"a05","level":0.68,"i":0,"X":0.886,"Y":0,"Z":0.481},{"part":"spike","poly":"a05","level":0.68,"i":1,"X":0.826,"Y":0,"Z":0.575},{"part":"spike","poly":"a05","level":0.68,"i":2,"X":0.786,"Y":0,"Z":0.594},{"part":"spike","poly":"a05","level":0.68,"i":3,"X":0.746,"Y":0,"Z":0.578},{"part":"spike","poly":"a05","level":0.68,"i":4,"X":0.687,"Y":0,"Z":0.489},{"part":"spike","poly":"a05","level":0.68,"i":5,"X":0.786,"Y":0,"Z":0.409},
{"part":"spike","poly":"b05","level":0.66,"i":0,"X":0.777,"Y":0,"Z":0.447},{"part":"spike","poly":"b05","level":0.66,"i":1,"X":0.717,"Y":0,"Z":0.541},{"part":"spike","poly":"b05","level":0.66,"i":2,"X":0.677,"Y":0,"Z":0.56},{"part":"spike","poly":"b05","level":0.66,"i":3,"X":0.637,"Y":0,"Z":0.544},{"part":"spike","poly":"b05","level":0.66,"i":4,"X":0.578,"Y":0,"Z":0.455},{"part":"spike","poly":"b05","level":0.66,"i":5,"X":0.677,"Y":0,"Z":0.375},
{"part":"spike","poly":"a06","level":0.62,"i":0,"X":0.876,"Y":0,"Z":0.4},{"part":"spike","poly":"a06","level":0.62,"i":1,"X":0.816,"Y":0,"Z":0.494},{"part":"spike","poly":"a06","level":0.62,"i":2,"X":0.776,"Y":0,"Z":0.513},{"part":"spike","poly":"a06","level":0.62,"i":3,"X":0.736,"Y":0,"Z":0.497},{"part":"spike","poly":"a06","level":0.62,"i":4,"X":0.677,"Y":0,"Z":0.408},{"part":"spike","poly":"a06","level":0.62,"i":5,"X":0.776,"Y":0,"Z":0.328},
{"part":"spike","poly":"b06","level":0.58,"i":0,"X":0.767,"Y":0,"Z":0.366},{"part":"spike","poly":"b06","level":0.58,"i":1,"X":0.707,"Y":0,"Z":0.46},{"part":"spike","poly":"b06","level":0.58,"i":2,"X":0.667,"Y":0,"Z":0.479},{"part":"spike","poly":"b06","level":0.58,"i":3,"X":0.627,"Y":0,"Z":0.463},{"part":"spike","poly":"b06","level":0.58,"i":4,"X":0.568,"Y":0,"Z":0.374},{"part":"spike","poly":"b06","level":0.58,"i":5,"X":0.667,"Y":0,"Z":0.294},
{"part":"spike","poly":"a07","level":0.54,"i":0,"X":0.871,"Y":0,"Z":0.318},{"part":"spike","poly":"a07","level":0.54,"i":1,"X":0.811,"Y":0,"Z":0.412},{"part":"spike","poly":"a07","level":0.54,"i":2,"X":0.771,"Y":0,"Z":0.431},{"part":"spike","poly":"a07","level":0.54,"i":3,"X":0.731,"Y":0,"Z":0.415},{"part":"spike","poly":"a07","level":0.54,"i":4,"X":0.672,"Y":0,"Z":0.326},{"part":"spike","poly":"a07","level":0.54,"i":5,"X":0.771,"Y":0,"Z":0.246},
{"part":"spike","poly":"b07","level":0.5,"i":0,"X":0.762,"Y":0,"Z":0.29},{"part":"spike","poly":"b07","level":0.5,"i":1,"X":0.702,"Y":0,"Z":0.384},{"part":"spike","poly":"b07","level":0.5,"i":2,"X":0.662,"Y":0,"Z":0.403},{"part":"spike","poly":"b07","level":0.5,"i":3,"X":0.622,"Y":0,"Z":0.387},{"part":"spike","poly":"b07","level":0.5,"i":4,"X":0.563,"Y":0,"Z":0.298},{"part":"spike","poly":"b07","level":0.5,"i":5,"X":0.662,"Y":0,"Z":0.218},
{"part":"spike","poly":"a08","level":0.45,"i":0,"X":0.861,"Y":0,"Z":0.242},{"part":"spike","poly":"a08","level":0.45,"i":1,"X":0.801,"Y":0,"Z":0.336},{"part":"spike","poly":"a08","level":0.45,"i":2,"X":0.761,"Y":0,"Z":0.355},{"part":"spike","poly":"a08","level":0.45,"i":3,"X":0.721,"Y":0,"Z":0.339},{"part":"spike","poly":"a08","level":0.45,"i":4,"X":0.662,"Y":0,"Z":0.25},{"part":"spike","poly":"a08","level":0.45,"i":5,"X":0.761,"Y":0,"Z":0.17},
{"part":"spike","poly":"b08","level":0.42,"i":0,"X":0.752,"Y":0,"Z":0.225},{"part":"spike","poly":"b08","level":0.42,"i":1,"X":0.692,"Y":0,"Z":0.319},{"part":"spike","poly":"b08","level":0.42,"i":2,"X":0.652,"Y":0,"Z":0.338},{"part":"spike","poly":"b08","level":0.42,"i":3,"X":0.612,"Y":0,"Z":0.322},{"part":"spike","poly":"b08","level":0.42,"i":4,"X":0.553,"Y":0,"Z":0.233},{"part":"spike","poly":"b08","level":0.42,"i":5,"X":0.652,"Y":0,"Z":0.153},
{"part":"spike","poly":"a09","level":0.39,"i":0,"X":0.861,"Y":0,"Z":0.171},{"part":"spike","poly":"a09","level":0.39,"i":1,"X":0.801,"Y":0,"Z":0.265},{"part":"spike","poly":"a09","level":0.39,"i":2,"X":0.761,"Y":0,"Z":0.284},{"part":"spike","poly":"a09","level":0.39,"i":3,"X":0.721,"Y":0,"Z":0.268},{"part":"spike","poly":"a09","level":0.39,"i":4,"X":0.662,"Y":0,"Z":0.179},{"part":"spike","poly":"a09","level":0.39,"i":5,"X":0.761,"Y":0,"Z":0.099},
{"part":"spike","poly":"b09","level":0.37,"i":0,"X":0.752,"Y":0,"Z":0.154},{"part":"spike","poly":"b09","level":0.37,"i":1,"X":0.692,"Y":0,"Z":0.248},{"part":"spike","poly":"b09","level":0.37,"i":2,"X":0.652,"Y":0,"Z":0.267},{"part":"spike","poly":"b09","level":0.37,"i":3,"X":0.612,"Y":0,"Z":0.251},{"part":"spike","poly":"b09","level":0.37,"i":4,"X":0.553,"Y":0,"Z":0.162},{"part":"spike","poly":"b09","level":0.37,"i":5,"X":0.652,"Y":0,"Z":0.082},
{"part":"spike","poly":"a10","level":0.33,"i":0,"X":0.871,"Y":0,"Z":0.106},{"part":"spike","poly":"a10","level":0.33,"i":1,"X":0.811,"Y":0,"Z":0.2},{"part":"spike","poly":"a10","level":0.33,"i":2,"X":0.771,"Y":0,"Z":0.219},{"part":"spike","poly":"a10","level":0.33,"i":3,"X":0.731,"Y":0,"Z":0.203},{"part":"spike","poly":"a10","level":0.33,"i":4,"X":0.672,"Y":0,"Z":0.114},{"part":"spike","poly":"a10","level":0.33,"i":5,"X":0.771,"Y":0,"Z":0.034},
{"part":"spike","poly":"b10","level":0.31,"i":0,"X":0.762,"Y":0,"Z":0.094},{"part":"spike","poly":"b10","level":0.31,"i":1,"X":0.702,"Y":0,"Z":0.188},{"part":"spike","poly":"b10","level":0.31,"i":2,"X":0.662,"Y":0,"Z":0.207},{"part":"spike","poly":"b10","level":0.31,"i":3,"X":0.622,"Y":0,"Z":0.191},{"part":"spike","poly":"b10","level":0.31,"i":4,"X":0.563,"Y":0,"Z":0.102},{"part":"spike","poly":"b10","level":0.31,"i":5,"X":0.662,"Y":0,"Z":0.022},
{"part":"spike","poly":"a11","level":0.27,"i":0,"X":0.871,"Y":0,"Z":0.046},{"part":"spike","poly":"a11","level":0.27,"i":1,"X":0.811,"Y":0,"Z":0.14},{"part":"spike","poly":"a11","level":0.27,"i":2,"X":0.771,"Y":0,"Z":0.159},{"part":"spike","poly":"a11","level":0.27,"i":3,"X":0.731,"Y":0,"Z":0.143},{"part":"spike","poly":"a11","level":0.27,"i":4,"X":0.672,"Y":0,"Z":0.054},{"part":"spike","poly":"a11","level":0.27,"i":5,"X":0.771,"Y":0,"Z":-0.026},
{"part":"spike","poly":"b11","level":0.25,"i":0,"X":0.762,"Y":0,"Z":0.034},{"part":"spike","poly":"b11","level":0.25,"i":1,"X":0.702,"Y":0,"Z":0.128},{"part":"spike","poly":"b11","level":0.25,"i":2,"X":0.662,"Y":0,"Z":0.147},{"part":"spike","poly":"b11","level":0.25,"i":3,"X":0.622,"Y":0,"Z":0.131},{"part":"spike","poly":"b11","level":0.25,"i":4,"X":0.563,"Y":0,"Z":0.042},{"part":"spike","poly":"b11","level":0.25,"i":5,"X":0.662,"Y":0,"Z":-0.038},
{"part":"spike","poly":"a12","level":0.21,"i":0,"X":0.861,"Y":0,"Z":-0.008},{"part":"spike","poly":"a12","level":0.21,"i":1,"X":0.801,"Y":0,"Z":0.086},{"part":"spike","poly":"a12","level":0.21,"i":2,"X":0.761,"Y":0,"Z":0.105},{"part":"spike","poly":"a12","level":0.21,"i":3,"X":0.721,"Y":0,"Z":0.089},{"part":"spike","poly":"a12","level":0.21,"i":4,"X":0.662,"Y":0,"Z":0},{"part":"spike","poly":"a12","level":0.21,"i":5,"X":0.761,"Y":0,"Z":-0.08},
{"part":"spike","poly":"b12","level":0.2,"i":0,"X":0.752,"Y":0,"Z":-0.02},{"part":"spike","poly":"b12","level":0.2,"i":1,"X":0.692,"Y":0,"Z":0.074},{"part":"spike","poly":"b12","level":0.2,"i":2,"X":0.652,"Y":0,"Z":0.093},{"part":"spike","poly":"b12","level":0.2,"i":3,"X":0.612,"Y":0,"Z":0.077},{"part":"spike","poly":"b12","level":0.2,"i":4,"X":0.553,"Y":0,"Z":-0.012},{"part":"spike","poly":"b12","level":0.2,"i":5,"X":0.652,"Y":0,"Z":-0.092},
{"part":"spike","poly":"a13","level":0.16,"i":0,"X":0.861,"Y":0,"Z":-0.063},{"part":"spike","poly":"a13","level":0.16,"i":1,"X":0.801,"Y":0,"Z":0.031},{"part":"spike","poly":"a13","level":0.16,"i":2,"X":0.761,"Y":0,"Z":0.05},{"part":"spike","poly":"a13","level":0.16,"i":3,"X":0.721,"Y":0,"Z":0.034},{"part":"spike","poly":"a13","level":0.16,"i":4,"X":0.662,"Y":0,"Z":-0.055},{"part":"spike","poly":"a13","level":0.16,"i":5,"X":0.761,"Y":0,"Z":-0.135},
{"part":"spike","poly":"b13","level":0.15,"i":0,"X":0.742,"Y":0,"Z":-0.074},{"part":"spike","poly":"b13","level":0.15,"i":1,"X":0.682,"Y":0,"Z":0.02},{"part":"spike","poly":"b13","level":0.15,"i":2,"X":0.642,"Y":0,"Z":0.039},{"part":"spike","poly":"b13","level":0.15,"i":3,"X":0.602,"Y":0,"Z":0.023},{"part":"spike","poly":"b13","level":0.15,"i":4,"X":0.543,"Y":0,"Z":-0.066},{"part":"spike","poly":"b13","level":0.15,"i":5,"X":0.642,"Y":0,"Z":-0.146},
{"part":"surf2","poly":"k15","level":0.15,"i":0,"X":1.76,"Y":1.5,"Z":-0.02},{"part":"surf2","poly":"k15","level":0.15,"i":1,"X":1.442,"Y":1.5,"Z":0.08},{"part":"surf2","poly":"k15","level":0.15,"i":2,"X":1.123,"Y":1.5,"Z":0.145},{"part":"surf2","poly":"k15","level":0.15,"i":3,"X":0.805,"Y":1.5,"Z":0.176},{"part":"surf2","poly":"k15","level":0.15,"i":4,"X":0.606,"Y":1.5,"Z":0.167},{"part":"surf2","poly":"k15","level":0.15,"i":5,"X":0.407,"Y":1.5,"Z":0.123},{"part":"surf2","poly":"k15","level":0.15,"i":6,"X":0.208,"Y":1.5,"Z":0.044},{"part":"surf2","poly":"k15","level":0.15,"i":7,"X":1.44,"Y":1.5,"Z":-0.316},
{"part":"surf2","poly":"k16","level":0.115,"i":0,"X":1.987,"Y":1.5,"Z":-0.074},{"part":"surf2","poly":"k16","level":0.115,"i":1,"X":1.609,"Y":1.5,"Z":0.029},{"part":"surf2","poly":"k16","level":0.115,"i":2,"X":1.231,"Y":1.5,"Z":0.097},{"part":"surf2","poly":"k16","level":0.115,"i":3,"X":0.853,"Y":1.5,"Z":0.13},{"part":"surf2","poly":"k16","level":0.115,"i":4,"X":0.644,"Y":1.5,"Z":0.121},{"part":"surf2","poly":"k16","level":0.115,"i":5,"X":0.435,"Y":1.5,"Z":0.078},{"part":"surf2","poly":"k16","level":0.115,"i":6,"X":0.226,"Y":1.5,"Z":-0.001},{"part":"surf2","poly":"k16","level":0.115,"i":7,"X":1.44,"Y":1.5,"Z":-0.316},
{"part":"surf2","poly":"k17","level":0.09,"i":0,"X":2.29,"Y":1.5,"Z":-0.127},{"part":"surf2","poly":"k17","level":0.09,"i":1,"X":1.832,"Y":1.5,"Z":-0.021},{"part":"surf2","poly":"k17","level":0.09,"i":2,"X":1.375,"Y":1.5,"Z":0.051},{"part":"surf2","poly":"k17","level":0.09,"i":3,"X":0.917,"Y":1.5,"Z":0.087},{"part":"surf2","poly":"k17","level":0.09,"i":4,"X":0.698,"Y":1.5,"Z":0.079},{"part":"surf2","poly":"k17","level":0.09,"i":5,"X":0.479,"Y":1.5,"Z":0.035},{"part":"surf2","poly":"k17","level":0.09,"i":6,"X":0.26,"Y":1.5,"Z":-0.043},{"part":"surf2","poly":"k17","level":0.09,"i":7,"X":1.44,"Y":1.5,"Z":-0.316},
{"part":"surf2","poly":"k18","level":0.06,"i":0,"X":2.579,"Y":1.5,"Z":-0.194},{"part":"surf2","poly":"k18","level":0.06,"i":1,"X":2.042,"Y":1.5,"Z":-0.084},{"part":"surf2","poly":"k18","level":0.06,"i":2,"X":1.504,"Y":1.5,"Z":-0.01},{"part":"surf2","poly":"k18","level":0.06,"i":3,"X":0.967,"Y":1.5,"Z":0.03},{"part":"surf2","poly":"k18","level":0.06,"i":4,"X":0.738,"Y":1.5,"Z":0.022},{"part":"surf2","poly":"k18","level":0.06,"i":5,"X":0.509,"Y":1.5,"Z":-0.021},{"part":"surf2","poly":"k18","level":0.06,"i":6,"X":0.395,"Y":1.5,"Z":-0.055},{"part":"surf2","poly":"k18","level":0.06,"i":7,"X":1.44,"Y":1.5,"Z":-0.316},
{"part":"surf2","poly":"k19","level":0.03,"i":0,"X":2.808,"Y":1.5,"Z":-0.268},{"part":"surf2","poly":"k19","level":0.03,"i":1,"X":2.211,"Y":1.5,"Z":-0.156},{"part":"surf2","poly":"k19","level":0.03,"i":2,"X":1.614,"Y":1.5,"Z":-0.079},{"part":"surf2","poly":"k19","level":0.03,"i":3,"X":1.017,"Y":1.5,"Z":-0.037},{"part":"surf2","poly":"k19","level":0.03,"i":4,"X":0.818,"Y":1.5,"Z":-0.046},{"part":"surf2","poly":"k19","level":0.03,"i":5,"X":0.619,"Y":1.5,"Z":-0.09},{"part":"surf2","poly":"k19","level":0.03,"i":6,"X":1.44,"Y":1.5,"Z":-0.316},
{"part":"surf2","poly":"k20","level":0.01,"i":0,"X":2.485,"Y":1.5,"Z":-0.277},{"part":"surf2","poly":"k20","level":0.01,"i":1,"X":1.789,"Y":1.5,"Z":-0.195},{"part":"surf2","poly":"k20","level":0.01,"i":2,"X":1.092,"Y":1.5,"Z":-0.149},{"part":"surf2","poly":"k20","level":0.01,"i":3,"X":0.893,"Y":1.5,"Z":-0.158},{"part":"surf2","poly":"k20","level":0.01,"i":4,"X":1.44,"Y":1.5,"Z":-0.4},
{"part":"surf2","poly":"r8","level":0.025,"i":0,"X":0.667,"Y":0,"Z":-0.211},{"part":"surf2","poly":"r8","level":0.025,"i":1,"X":0.617,"Y":0,"Z":-0.151},{"part":"surf2","poly":"r8","level":0.025,"i":2,"X":0.502,"Y":0,"Z":-0.073},{"part":"surf2","poly":"r8","level":0.025,"i":3,"X":0.418,"Y":0,"Z":0.002},{"part":"surf2","poly":"r8","level":0.025,"i":4,"X":0.338,"Y":0,"Z":0.06},{"part":"surf2","poly":"r8","level":0.025,"i":5,"X":0.239,"Y":0,"Z":0.09},{"part":"surf2","poly":"r8","level":0.025,"i":6,"X":0.169,"Y":0,"Z":0.086},{"part":"surf2","poly":"r8","level":0.025,"i":7,"X":0.139,"Y":0,"Z":0.068},{"part":"surf2","poly":"r8","level":0.025,"i":8,"X":0.104,"Y":0,"Z":0.041},{"part":"surf2","poly":"r8","level":0.025,"i":9,"X":0.055,"Y":0,"Z":0.014},{"part":"surf2","poly":"r8","level":0.025,"i":10,"X":0,"Y":0,"Z":0.002},
{"part":"fade","poly":"fd","i":0,"X":2.244,"Y":0,"Z":0.004},{"part":"fade","poly":"fd","i":1,"X":2.101,"Y":0,"Z":0.054},{"part":"fade","poly":"fd","i":2,"X":2.025,"Y":0,"Z":0.091},{"part":"fade","poly":"fd","i":3,"X":1.95,"Y":0,"Z":0.144},{"part":"fade","poly":"fd","i":4,"X":1.873,"Y":0,"Z":0.197},{"part":"fade","poly":"fd","i":5,"X":0.701,"Y":0,"Z":0.249},{"part":"fade","poly":"fd","i":6,"X":0.701,"Y":0,"Z":-0.209},{"part":"fade","poly":"fd","i":7,"X":1.348,"Y":0,"Z":-0.41},{"part":"fade","poly":"fd","i":8,"X":3.438,"Y":0,"Z":-0.496},{"part":"fade","poly":"fd","i":9,"X":3.438,"Y":0,"Z":-0.05},
{"part":"xlab","X":0,"Y":8,"Z":-0.2,"label":"0"},{"part":"xlab","X":1,"Y":8,"Z":-0.2,"label":"1"},{"part":"xlab","X":2,"Y":8,"Z":-0.2,"label":"2"},{"part":"xlab","X":3,"Y":8,"Z":-0.2,"label":"3"},{"part":"xlab","X":4,"Y":8,"Z":-0.2,"label":"4"},{"part":"xlab","X":5,"Y":8,"Z":-0.2,"label":"5"},{"part":"xlab","X":6,"Y":8,"Z":-0.2,"label":"6"},{"part":"xlab","X":7,"Y":8,"Z":-0.2,"label":"7"},
{"part":"ylab","X":0,"Y":0,"Z":-0.2,"label":"0"},{"part":"ylab","X":0,"Y":1,"Z":-0.2,"label":"1"},{"part":"ylab","X":0,"Y":2,"Z":-0.2,"label":"2"},{"part":"ylab","X":0,"Y":3,"Z":-0.2,"label":"3"},{"part":"ylab","X":0,"Y":4,"Z":-0.2,"label":"4"},{"part":"ylab","X":0,"Y":5,"Z":-0.2,"label":"5"},{"part":"ylab","X":0,"Y":6,"Z":-0.2,"label":"6"},{"part":"ylab","X":0,"Y":7,"Z":-0.2,"label":"7"},{"part":"ylab","X":0,"Y":8,"Z":-0.2,"label":"8"},
{"part":"zlab","X":7,"Y":8,"Z":-0.2,"label":"-0.2"},{"part":"zlab","X":7,"Y":8,"Z":0,"label":"0"},{"part":"zlab","X":7,"Y":8,"Z":0.2,"label":"0.2"},{"part":"zlab","X":7,"Y":8,"Z":0.4,"label":"0.4"},{"part":"zlab","X":7,"Y":8,"Z":0.6,"label":"0.6"},{"part":"zlab","X":7,"Y":8,"Z":0.8,"label":"0.8"},{"part":"zlab","X":7,"Y":8,"Z":1,"label":"1"},{"part":"zlab","X":7,"Y":8,"Z":1.2,"label":"1.2"},
{"part":"xtitle","X":3.5,"Y":8,"Z":-0.2,"label":"X"},{"part":"ytitle","X":0,"Y":4,"Z":-0.2,"label":"Y"},
{"part":"bar","Z":1.2,"Zlow":-0.2},
{"part":"barlab","Z":1.2,"label":"1.2"},{"part":"barlab","Z":1,"label":"1"},{"part":"barlab","Z":0.8,"label":"0.8"},{"part":"barlab","Z":0.6,"label":"0.6"},{"part":"barlab","Z":0.4,"label":"0.4"},{"part":"barlab","Z":0.2,"label":"0.2"},{"part":"barlab","Z":0,"label":"0"},{"part":"barneg","Z":-0.2,"label":"-0.2"}
]},
"data":{"name":"pts"},
"transform":[
{"calculate":"1850-201*datum.X+67.6*(8-datum.Y)","as":"px"},
{"calculate":"2326-38*datum.X-((datum.part==='surf'||datum.part==='surf2'||datum.part==='spike'||datum.part==='sil'||datum.part==='fade')?86.4:86.8)*(8-datum.Y)-918*datum.Z","as":"py"},
{"calculate":"649+(1.2-datum.Z)*683.4","as":"cby"},
{"calculate":"649+(1.2-datum.Zlow)*683.4","as":"cby2"}
],
"encoding":{
"x":{"field":"px","type":"quantitative","scale":{"domain":[0,2833],"range":[0,2833],"nice":false,"zero":false},"axis":null},
"y":{"field":"py","type":"quantitative","scale":{"domain":[0,2833],"range":[0,2833],"nice":false,"zero":false},"axis":null}
},
"layer":[
{"transform":[{"filter":"datum.part==='wall'"}],"mark":{"type":"line","fill":"#e4e4e4","stroke":null,"strokeWidth":0},"encoding":{"detail":{"field":"poly"},"order":{"field":"i","type":"quantitative"}}},
{"transform":[{"filter":"datum.part==='grid'"}],"mark":{"type":"line","stroke":"black","strokeWidth":2,"strokeDash":[6,7]},"encoding":{"detail":{"field":"poly"},"order":{"field":"i","type":"quantitative"}}},
{"transform":[{"filter":"datum.part==='thin'"}],"mark":{"type":"line","stroke":"#333333","strokeWidth":1.2},"encoding":{"detail":{"field":"poly"},"order":{"field":"i","type":"quantitative"}}},
{"transform":[{"filter":"datum.part==='edge'"}],"mark":{"type":"line","stroke":"black","strokeWidth":5},"encoding":{"detail":{"field":"poly"},"order":{"field":"i","type":"quantitative"}}},
{"transform":[{"filter":"datum.part==='tick'"}],"mark":{"type":"line","stroke":"black","strokeWidth":4.5},"encoding":{"detail":{"field":"poly"},"order":{"field":"i","type":"quantitative"}}},
{"transform":[{"filter":"datum.part==='floor'"}],"mark":{"type":"line","fill":"#000088","stroke":null,"strokeWidth":0},"encoding":{"detail":{"field":"poly"},"order":{"field":"i","type":"quantitative"}}},
{"transform":[{"filter":"datum.part==='sil'"}],"mark":{"type":"line","stroke":null,"strokeWidth":0,"fill":{"gradient":"linear","x1":0,"y1":0,"x2":0,"y2":1,"stops":[{"offset":0,"color":"#e00000"},{"offset":0.061,"color":"#ff0000"},{"offset":0.108,"color":"#ff4000"},{"offset":0.165,"color":"#ff8800"},{"offset":0.228,"color":"#ffd200"},{"offset":0.299,"color":"#c8ff00"},{"offset":0.373,"color":"#80ff00"},{"offset":0.448,"color":"#40ff00"},{"offset":0.522,"color":"#00ff20"},{"offset":0.592,"color":"#00ff80"},{"offset":0.62,"color":"#00ffc0"},{"offset":0.677,"color":"#00d0ff"},{"offset":0.736,"color":"#0060ff"},{"offset":0.785,"color":"#0010ff"},{"offset":0.833,"color":"#0000f0"},{"offset":0.864,"color":"#0000d0"},{"offset":0.907,"color":"#00009a"},{"offset":1,"color":"#00009a"}]}},"encoding":{"detail":{"field":"poly"},"order":{"field":"i","type":"quantitative"}}},
{"transform":[{"filter":"datum.part==='surf'"}],"mark":{"type":"line","interpolate":"cardinal","stroke":null,"strokeWidth":0},"encoding":{"detail":{"field":"poly"},"order":{"field":"i","type":"quantitative"},"fill":{"field":"level","type":"quantitative","legend":null,"scale":{"domain":[-0.2,0,0.2,0.3,0.4,0.5,0.6,0.7,0.8,0.9,1,1.2],"range":["#b07ef0","#000088","#0000ff","#0080ff","#00ffff","#00ff80","#00ff00","#80ff00","#ffff00","#ff8000","#ff0000","#8b0000"]}}}},
{"transform":[{"filter":"datum.part==='spike'"}],"mark":{"type":"line","interpolate":"linear","stroke":null,"strokeWidth":0},"encoding":{"detail":{"field":"poly"},"order":{"field":"i","type":"quantitative"},"fill":{"field":"level","type":"quantitative","legend":null,"scale":{"domain":[-0.2,0,0.2,0.3,0.4,0.5,0.6,0.7,0.8,0.9,1,1.2],"range":["#b07ef0","#000088","#0000ff","#0080ff","#00ffff","#00ff80","#00ff00","#80ff00","#ffff00","#ff8000","#ff0000","#8b0000"]}}}},
{"transform":[{"filter":"datum.part==='surf2'"}],"mark":{"type":"line","interpolate":"cardinal","stroke":null,"strokeWidth":0},"encoding":{"detail":{"field":"poly"},"order":{"field":"i","type":"quantitative"},"fill":{"field":"level","type":"quantitative","legend":null,"scale":{"domain":[-0.2,0,0.2,0.3,0.4,0.5,0.6,0.7,0.8,0.9,1,1.2],"range":["#b07ef0","#000088","#0000ff","#0080ff","#00ffff","#00ff80","#00ff00","#80ff00","#ffff00","#ff8000","#ff0000","#8b0000"]}}}},
{"transform":[{"filter":"datum.part==='fade'"}],"mark":{"type":"line","stroke":null,"strokeWidth":0,"fill":{"gradient":"linear","x1":0,"y1":1,"x2":1,"y2":0,"stops":[{"offset":0,"color":"rgba(0,0,136,1)"},{"offset":0.45,"color":"rgba(0,0,136,1)"},{"offset":0.52,"color":"rgba(0,0,160,0.6)"},{"offset":0.6,"color":"rgba(0,0,190,0)"},{"offset":1,"color":"rgba(0,0,190,0)"}]}},"encoding":{"detail":{"field":"poly"},"order":{"field":"i","type":"quantitative"}}},
{"transform":[{"filter":"datum.part==='xlab'"}],"mark":{"type":"text","font":"Liberation Sans","fontSize":56,"align":"center","baseline":"middle","dx":-15,"dy":71,"color":"black"},"encoding":{"text":{"field":"label"}}},
{"transform":[{"filter":"datum.part==='ylab'"}],"mark":{"type":"text","font":"Liberation Sans","fontSize":56,"align":"center","baseline":"middle","dx":91,"dy":45,"color":"black"},"encoding":{"text":{"field":"label"}}},
{"transform":[{"filter":"datum.part==='zlab'"}],"mark":{"type":"text","font":"Liberation Sans","fontSize":56,"align":"right","baseline":"middle","dx":-80,"dy":0,"color":"black"},"encoding":{"text":{"field":"label"}}},
{"transform":[{"filter":"datum.part==='xtitle'"}],"mark":{"type":"text","font":"Liberation Sans","fontSize":60,"align":"center","baseline":"middle","dx":-250,"dy":245,"color":"#0000ff"},"encoding":{"text":{"field":"label"}}},
{"transform":[{"filter":"datum.part==='ytitle'"}],"mark":{"type":"text","font":"Liberation Sans","fontSize":60,"align":"center","baseline":"middle","dx":379,"dy":129,"color":"#0000ff"},"encoding":{"text":{"field":"label"}}},
{"transform":[{"filter":"datum.part==='bar'"}],"mark":{"type":"rect","stroke":"black","strokeWidth":4.5,"fill":{"gradient":"linear","x1":0,"y1":0,"x2":0,"y2":1,"stops":[{"offset":0,"color":"#8b0000"},{"offset":0.1429,"color":"#ff0000"},{"offset":0.2143,"color":"#ff8000"},{"offset":0.2857,"color":"#ffff00"},{"offset":0.4286,"color":"#00ff00"},{"offset":0.5714,"color":"#00ffff"},{"offset":0.7143,"color":"#0000ff"},{"offset":0.8571,"color":"#000080"},{"offset":1,"color":"#b07ef0"}]}},"encoding":{"x":{"value":2487},"x2":{"value":2591},"y":{"field":"cby","type":"quantitative"},"y2":{"field":"cby2"}}},
{"transform":[{"filter":"datum.part==='barlab'||datum.part==='barneg'"}],"mark":{"type":"rule","stroke":"black","strokeWidth":4.5},"encoding":{"x":{"value":2591},"x2":{"value":2617},"y":{"field":"cby","type":"quantitative"}}},
{"transform":[{"filter":"datum.part==='barlab'"}],"mark":{"type":"text","font":"Liberation Sans","fontSize":56,"align":"left","baseline":"middle","color":"black"},"encoding":{"x":{"value":2653},"y":{"field":"cby","type":"quantitative"},"text":{"field":"label"}}},
{"transform":[{"filter":"datum.part==='barneg'"}],"mark":{"type":"text","font":"Liberation Sans","fontSize":56,"align":"left","baseline":"middle","color":"black"},"encoding":{"x":{"value":2636},"y":{"field":"cby","type":"quantitative"},"text":{"field":"label"}}}
]}
